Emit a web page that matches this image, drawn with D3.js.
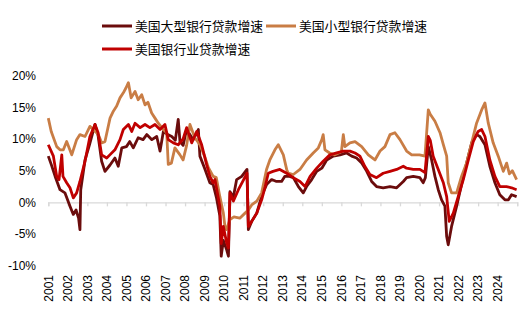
<!DOCTYPE html>
<html>
<head>
<meta charset="utf-8">
<script src="https://cdn.jsdelivr.net/npm/d3@7"></script>
<style>
  html, body { margin: 0; padding: 0; background: #fff; }
  svg { display: block; }
</style>
</head>
<body>
<svg id="chart" width="530" height="322"></svg>
<script>
// ---- data (decimal year, % growth) ----
const seriesNames = ["美国大型银行贷款增速", "美国小型银行贷款增速", "美国银行业贷款增速"];
const seriesColors = ["#6B0C0C", "#C97D45", "#C00000"];

const largeDates = [2001.0,2001.15,2001.35,2001.6,2001.85,2002.11,2002.28,2002.42,2002.55,2002.62,2002.66,2002.88,2003.1,2003.39,2003.55,2003.73,2003.9,2004.16,2004.41,2004.58,2004.76,2005.0,2005.17,2005.35,2005.6,2005.85,2006.04,2006.3,2006.55,2006.72,2006.89,2007.06,2007.32,2007.5,2007.65,2007.74,2007.9,2008.08,2008.42,2008.68,2008.76,2009.0,2009.27,2009.44,2009.61,2009.78,2009.85,2009.96,2010.13,2010.22,2010.3,2010.47,2010.64,2010.9,2011.17,2011.24,2011.41,2011.67,2011.92,2012.17,2012.43,2012.68,2012.94,2013.1,2013.35,2013.54,2013.8,2014.05,2014.22,2014.48,2014.74,2015.0,2015.25,2015.59,2015.93,2016.27,2016.53,2016.78,2017.04,2017.3,2017.55,2017.8,2018.14,2018.49,2018.83,2019.17,2019.34,2019.68,2020.02,2020.19,2020.3,2020.45,2020.62,2020.79,2020.96,2021.13,2021.3,2021.39,2021.47,2021.64,2021.9,2022.15,2022.41,2022.67,2022.92,2023.09,2023.35,2023.6,2023.86,2024.11,2024.37,2024.55,2024.71,2024.97];
const largeValues = [7.3,6.0,4.1,2.0,1.5,-0.6,-1.9,-1.2,-2.5,-4.3,2.0,6.7,9.0,12.3,10.5,6.5,4.9,5.9,7.0,5.7,8.6,8.8,9.6,8.6,10.2,9.9,10.7,9.9,10.4,8.1,11.2,10.8,10.4,9.8,13.1,9.6,9.0,11.5,9.9,11.5,7.3,5.4,3.1,2.8,0.7,-2.1,-8.5,-6.0,-7.5,-8.5,1.7,0.8,3.6,4.1,5.2,-4.3,-3.0,-1.7,1.0,2.8,3.6,3.3,3.3,4.1,4.1,3.9,2.5,1.5,2.5,3.6,4.9,5.4,6.7,7.3,7.5,7.8,7.3,7.0,6.2,4.9,3.3,2.5,2.3,2.5,2.3,3.3,3.9,4.1,3.9,3.1,3.9,8.8,6.7,4.1,2.0,0.4,-0.6,-5.4,-6.7,-3.8,-0.6,2.8,6.2,9.4,10.7,10.4,9.1,5.7,3.1,1.2,0.4,0.4,1.2,0.9];

const smallDates = [2001.0,2001.15,2001.43,2001.6,2001.77,2001.94,2002.2,2002.45,2002.62,2002.88,2003.13,2003.3,2003.56,2003.73,2003.9,2004.16,2004.33,2004.5,2004.67,2004.84,2004.98,2005.1,2005.24,2005.44,2005.6,2005.78,2005.95,2006.1,2006.29,2006.46,2006.63,2006.89,2007.06,2007.14,2007.3,2007.48,2007.74,2007.9,2008.08,2008.25,2008.5,2008.76,2009.0,2009.19,2009.44,2009.6,2009.78,2009.96,2010.04,2010.12,2010.3,2010.5,2010.8,2011.07,2011.24,2011.41,2011.67,2011.92,2012.17,2012.34,2012.6,2012.77,2013.03,2013.2,2013.28,2013.54,2013.88,2014.22,2014.56,2014.82,2015.0,2015.07,2015.16,2015.4,2015.67,2016.0,2016.1,2016.18,2016.44,2016.7,2017.04,2017.38,2017.72,2017.98,2018.23,2018.49,2018.74,2019.0,2019.34,2019.6,2020.0,2020.28,2020.45,2020.55,2020.79,2021.05,2021.22,2021.39,2021.47,2021.64,2021.9,2022.15,2022.41,2022.67,2022.92,2023.18,2023.35,2023.52,2023.77,2024.03,2024.29,2024.46,2024.6,2024.75,2024.97];
const smallValues = [13.3,11.2,8.8,8.3,8.3,9.6,7.5,9.9,10.7,10.4,12.0,11.5,10.7,9.4,9.6,13.3,14.4,15.2,16.5,17.3,18.1,18.9,16.5,17.5,16.2,17.0,15.4,15.8,14.1,13.3,12.5,11.5,11.0,6.0,6.2,8.6,7.5,6.7,9.0,12.3,10.2,9.1,7.3,5.5,4.1,3.9,0.9,-1.7,-3.8,-4.3,-2.7,-2.3,-2.5,-1.7,-1.2,-0.4,0.2,1.5,5.2,6.7,8.3,9.1,7.5,5.2,4.6,4.4,5.2,6.7,7.8,8.6,9.9,10.7,8.3,7.8,7.5,8.0,10.7,8.8,9.4,9.6,8.8,7.5,6.7,8.1,8.8,10.7,11.0,9.9,8.1,7.5,7.5,7.3,14.6,13.9,12.8,11.0,9.1,7.3,3.1,1.5,1.5,4.1,6.2,9.4,12.5,14.6,15.7,12.5,9.4,7.3,4.9,6.2,4.5,5.0,3.6];

const allDates = [2001.0,2001.26,2001.43,2001.55,2001.69,2001.75,2001.94,2002.11,2002.28,2002.45,2002.62,2002.88,2003.13,2003.39,2003.55,2003.73,2003.99,2004.15,2004.41,2004.67,2004.84,2005.1,2005.27,2005.44,2005.7,2005.95,2006.2,2006.46,2006.72,2006.97,2007.14,2007.4,2007.65,2007.9,2008.08,2008.34,2008.6,2008.85,2009.1,2009.27,2009.44,2009.53,2009.78,2009.85,2009.96,2010.13,2010.22,2010.3,2010.47,2010.73,2011.0,2011.17,2011.24,2011.41,2011.67,2011.92,2012.1,2012.26,2012.5,2012.85,2013.2,2013.54,2013.88,2014.14,2014.4,2014.74,2015.07,2015.41,2015.76,2016.1,2016.44,2016.7,2016.95,2017.2,2017.46,2017.8,2018.14,2018.49,2018.83,2019.17,2019.34,2019.68,2020.02,2020.28,2020.45,2020.55,2020.7,2020.96,2021.22,2021.39,2021.52,2021.73,2021.98,2022.24,2022.5,2022.75,2023.0,2023.18,2023.35,2023.6,2023.86,2024.11,2024.45,2024.71,2024.97];
const allValues = [9.1,7.3,4.1,3.6,7.5,4.1,3.1,2.3,0.7,1.5,3.3,6.5,10.4,12.3,11.0,7.5,7.0,7.5,8.3,9.9,11.5,12.3,11.2,12.5,11.8,12.3,11.8,12.3,11.5,12.3,9.9,9.4,9.1,10.0,11.8,9.4,11.2,9.1,6.0,4.1,3.1,3.6,-0.6,-6.5,-3.8,-6.4,-7.2,1.5,0.2,2.0,3.6,4.6,-3.8,-3.0,-1.7,0.4,2.5,4.6,4.9,5.2,4.6,3.9,3.3,2.5,4.1,5.4,6.5,7.5,7.8,8.1,8.1,7.8,7.3,5.7,4.4,3.9,4.6,4.9,5.2,5.7,5.4,5.2,5.2,4.7,10.4,9.8,7.3,5.2,3.1,0.9,-3.0,-1.7,0.9,3.6,6.7,9.6,11.2,11.5,10.4,6.7,4.1,2.5,2.5,2.3,2.0];

const yTicks = [20, 15, 10, 5, 0, -5, -10];
const yearLabels = ["2001","2002","2003","2004","2005","2006","2007","2008","2009","2010","2011","2012","2013","2014","2015","2016","2017","2018","2019","2020","2021","2022","2023","2024"];

// ---- drawing ----
const svg = d3.select("#chart");
const x = d3.scaleLinear().domain([2001, 2025]).range([48.3, 517.2]);
const y = d3.scaleLinear().domain([-10, 20]).range([265.7, 75.7]);

// zero axis with ticks
const xAxis = d3.axisBottom(x)
  .tickValues(d3.range(2001, 2026))
  .tickSize(4)
  .tickFormat("");
const gx = svg.append("g").attr("transform", `translate(0,${y(0)})`).call(xAxis);
gx.select(".domain").attr("stroke", "#D9D9D9").attr("stroke-width", 1.3);
gx.selectAll(".tick line").attr("stroke", "#D9D9D9").attr("stroke-width", 1.3);

// year labels (rotated)
svg.append("g").selectAll("text").data(yearLabels).join("text")
  .attr("transform", d => `translate(${x(+d)},275) rotate(-90)`)
  .attr("text-anchor", "end")
  .attr("dy", "0.35em")
  .attr("font-family", "Liberation Sans, Arial, sans-serif")
  .attr("font-size", 12)
  .attr("fill", "#000")
  .text(d => d);

// y labels
svg.append("g").selectAll("text").data(yTicks).join("text")
  .attr("x", 36)
  .attr("y", d => y(d))
  .attr("dy", "0.35em")
  .attr("text-anchor", "end")
  .attr("font-family", "Liberation Sans, Arial, sans-serif")
  .attr("font-size", 12)
  .attr("fill", "#000")
  .text(d => d + "%");

// lines
const seriesData = [
  d3.zip(largeDates, largeValues),
  d3.zip(smallDates, smallValues),
  d3.zip(allDates, allValues)
];
const line = d3.line().x(d => x(d[0])).y(d => y(d[1]));
svg.append("g").selectAll("path").data(seriesData).join("path")
  .attr("d", line)
  .attr("fill", "none")
  .attr("stroke", (d, i) => seriesColors[i])
  .attr("stroke-width", 2.8)
  .attr("stroke-linejoin", "round");

// legend
const legendPos = [[102, 26], [266, 26], [102, 49]];
const lg = svg.append("g").selectAll("g").data(seriesNames).join("g")
  .attr("transform", (d, i) => `translate(${legendPos[i][0]},${legendPos[i][1]})`);
lg.append("line")
  .attr("x1", 0).attr("x2", 30).attr("y1", 0).attr("y2", 0)
  .attr("stroke", (d, i) => seriesColors[i])
  .attr("stroke-width", 3);
lg.append("text")
  .attr("x", 33)
  .attr("y", 0)
  .attr("dy", "0.36em")
  .attr("font-family", "Noto Sans CJK SC, sans-serif")
  .attr("font-size", 12.8)
  .attr("fill", "#000")
  .text(d => d);
</script>
</body>
</html>
